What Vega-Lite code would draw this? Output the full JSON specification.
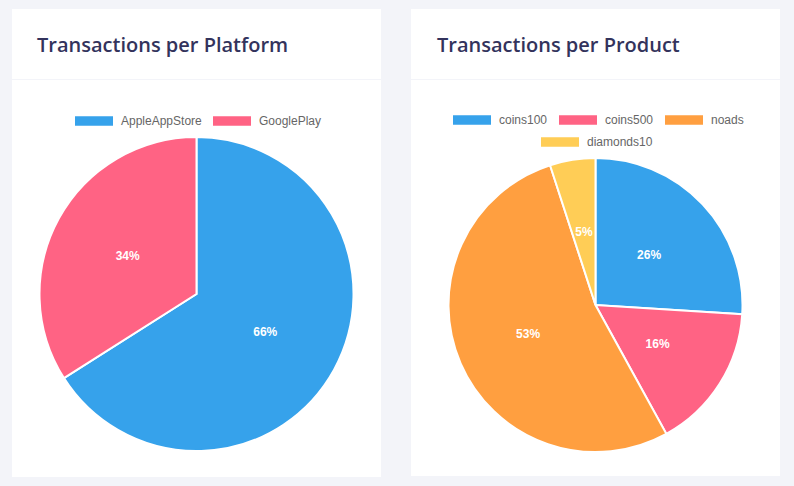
{
  "$schema": "https://vega.github.io/schema/vega-lite/v6.json",
  "background": "#f3f4f9",
  "padding": {"left": 12, "top": 9, "right": 14, "bottom": 9},
  "config": {
    "view": {"stroke": null, "fill": "white"},
    "title": {"font": "Open Sans", "fontSize": 20, "fontWeight": 600, "color": "#33335c", "anchor": "start", "frame": "group", "baseline": "alphabetic"},
    "legend": {
      "orient": "none",
      "direction": "horizontal",
      "title": null,
      "symbolType": "M-1,-0.25H1V0.25H-1Z",
      "symbolSize": 1444,
      "symbolStrokeWidth": 0,
      "symbolOpacity": 1,
      "labelFont": "Liberation Sans",
      "labelFontSize": 12,
      "labelColor": "#666666",
      "labelOffset": 8,
      "columnPadding": 11,
      "rowPadding": -2
    }
  },
  "resolve": {
    "scale": {"color": "independent", "theta": "independent", "stroke": "independent"},
    "legend": {"color": "independent", "stroke": "independent"}
  },
  "spacing": 30,
  "hconcat": [
    {
      "spacing": 1,
      "resolve": {"scale": {"color": "shared"}, "legend": {"color": "shared"}},
      "vconcat": [
        {
          "width": 369,
          "height": 70,
          "view": {"fill": "white", "stroke": null},
          "title": {"text": "Transactions per Platform", "offset": -47, "dx": 25},
          "data": {"values": []},
          "mark": "point"
        },
        {
          "spacing": 0,
          "vconcat": [
            {"width": 369, "height": 31, "view": {"fill": "white", "stroke": null}, "data": {"values": []}, "mark": "point"},
            {
              "width": 369,
              "height": 366,
              "view": {"fill": "white", "stroke": null},
              "data": {"values": [
                {"platform": "AppleAppStore", "share": 0.66, "rank": 1},
                {"platform": "GooglePlay", "share": 0.34, "rank": 2}
              ]},
              "encoding": {
                "theta": {"field": "share", "type": "quantitative", "stack": true},
                "order": {"field": "rank", "type": "quantitative"}
              },
              "layer": [
                {
                  "mark": {"type": "arc", "outerRadius": 157, "stroke": "white", "strokeWidth": 2},
                  "encoding": {
                    "color": {
                      "field": "platform", "type": "nominal",
                      "scale": {"domain": ["AppleAppStore", "GooglePlay"], "range": ["#36a2eb", "#ff6384"]},
                      "legend": {"legendX": 63, "legendY": 93, "columns": 2}
                    }
                  }
                },
                {
                  "mark": {"type": "text", "radius": 78.5, "font": "Liberation Sans", "fontWeight": "bold", "fontSize": 12},
                  "encoding": {
                    "detail": {"field": "platform", "type": "nominal"},
                    "color": {"value": "white"},
                    "text": {"field": "share", "type": "quantitative", "format": ".0%"}
                  }
                }
              ]
            }
          ]
        }
      ]
    },
    {
      "spacing": 1,
      "resolve": {"scale": {"color": "shared", "stroke": "shared"}, "legend": {"color": "shared", "stroke": "shared"}},
      "vconcat": [
        {
          "width": 369,
          "height": 70,
          "view": {"fill": "white", "stroke": null},
          "title": {"text": "Transactions per Product", "offset": -47, "dx": 26},
          "data": {"values": []},
          "mark": "point"
        },
        {
          "spacing": 0,
          "vconcat": [
            {"width": 369, "height": 54, "view": {"fill": "white", "stroke": null}, "data": {"values": []}, "mark": "point"},
            {
              "width": 369,
              "height": 342,
              "view": {"fill": "white", "stroke": null},
              "data": {"values": [
                {"product": "coins100", "share": 0.26, "rank": 1},
                {"product": "coins500", "share": 0.16, "rank": 2},
                {"product": "noads", "share": 0.53, "rank": 3},
                {"product": "diamonds10", "share": 0.05, "rank": 4}
              ]},
              "encoding": {
                "theta": {"field": "share", "type": "quantitative", "stack": true},
                "order": {"field": "rank", "type": "quantitative"}
              },
              "layer": [
                {
                  "mark": {"type": "arc", "outerRadius": 147, "strokeWidth": 2},
                  "encoding": {
                    "color": {
                      "field": "product", "type": "nominal",
                      "scale": {"domain": ["coins100", "coins500", "noads", "diamonds10"], "range": ["#36a2eb", "#ff6384", "#ff9f40", "#ffcd56"]},
                      "legend": {"legendX": 42, "legendY": 92, "values": ["coins100", "coins500", "noads"]}
                    },
                    "stroke": {
                      "field": "product", "type": "nominal",
                      "scale": {"domain": ["diamonds10", "noads", "coins500", "coins100"], "range": ["white", "white", "white", "white"]},
                      "legend": {
                        "legendX": 130, "legendY": 114, "values": ["diamonds10"],
                        "symbolFillColor": "#ffcd56"
                      }
                    }
                  }
                },
                {
                  "mark": {"type": "text", "radius": 73.5, "font": "Liberation Sans", "fontWeight": "bold", "fontSize": 12},
                  "encoding": {
                    "detail": {"field": "product", "type": "nominal"},
                    "color": {"value": "white"},
                    "text": {"field": "share", "type": "quantitative", "format": ".0%"}
                  }
                }
              ]
            }
          ]
        }
      ]
    }
  ]
}
